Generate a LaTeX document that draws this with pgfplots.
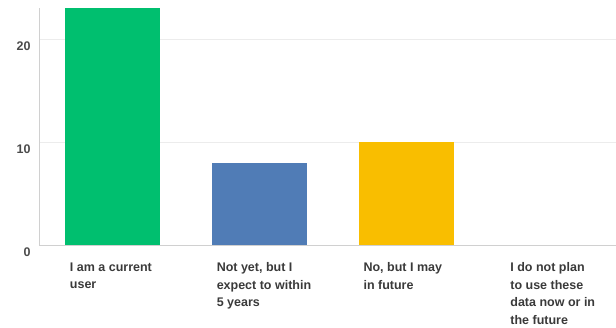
\documentclass[border=0pt]{standalone}
\usepackage{pgfplots}
\pgfplotsset{compat=1.18}
\usepackage{fontspec}
\setmainfont{Liberation Sans}
\definecolor{smgreen}{HTML}{00BF6F}
\definecolor{smblue}{HTML}{507CB6}
\definecolor{smyellow}{HTML}{F9BE00}
\definecolor{axisgray}{HTML}{D0D0D0}
\definecolor{gridgray}{HTML}{ECECEC}
\definecolor{labelgray}{HTML}{3A3A3A}
\definecolor{tickgray}{HTML}{4A4A4A}
\begin{document}
\begin{tikzpicture}
\begin{axis}[
  scale only axis, width=577bp, height=237bp,
  xmin=-0.5, xmax=3.43, ymin=0, ymax=23,
  axis x line=bottom, axis y line=left,
  axis line style={draw=axisgray, line width=0.8pt, -},
  ytick={0,10,20}, ymajorgrids, grid style={draw=gridgray, line width=0.8pt},
  major tick length=0pt,
  xtick={0,1,2,3},
  xticklabels={{I am a current\\user},{Not yet, but I\\expect to within\\5 years},{No, but I may\\in future},{I do not plan\\to use these\\data now or in\\the future}},
  xticklabel style={anchor=north west, align=left, xshift=-46bp, yshift=-14bp,
    font=\fontsize{12.5bp}{17.5bp}\selectfont\bfseries, text=labelgray},
  yticklabel style={font=\fontsize{12.5bp}{15bp}\selectfont\bfseries, text=tickgray, yshift=-7bp, xshift=-5bp},
  /pgf/number format/assume math mode=true,
  ybar, bar width=95bp, bar shift=0pt,
  clip=false,
]
\addplot[fill=smgreen, draw=none] coordinates {(0,23)};
\addplot[fill=smblue, draw=none] coordinates {(1,8)};
\addplot[fill=smyellow, draw=none] coordinates {(2,10)};
\coordinate (SW) at (rel axis cs:0,0);
\coordinate (NE) at (rel axis cs:1,1);
\end{axis}
\pgfresetboundingbox
\path ([xshift=-39bp,yshift=-83bp]SW) rectangle ([yshift=8bp]NE);
\end{tikzpicture}
\end{document}
